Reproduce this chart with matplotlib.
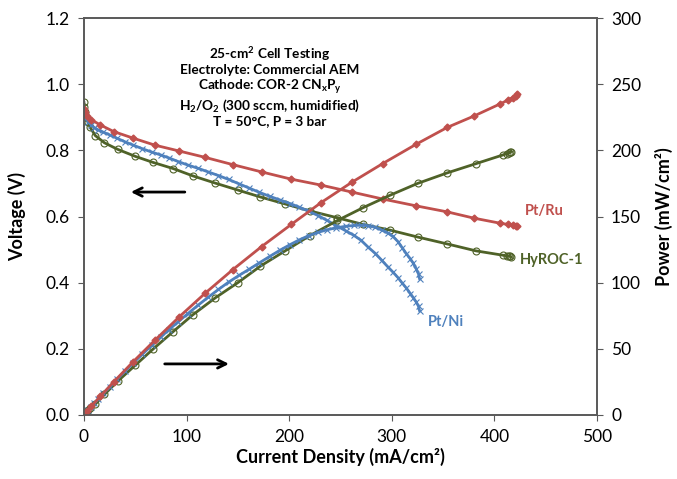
# Polarization and power density curves for 3 anode catalysts (25 cm2 AEM cell)
from matplotlib import pyplot as plt
import numpy as np

plt.rcParams['font.family'] = ['Lato', 'DejaVu Sans']
plt.rcParams['mathtext.fontset'] = 'custom'
plt.rcParams['mathtext.rm'] = 'Lato'
plt.rcParams['mathtext.bf'] = 'Lato:bold'
plt.rcParams['mathtext.it'] = 'Lato:italic'

# Pt/Ru data (current density mA/cm2, voltage V, power mW/cm2)
iRu = np.array([0,1,3,7,16,29,48,69,93,118,145,173,202,231,261,291,324,354,380,405,413,418,421,422])
vRu = np.array([0.925,0.915,0.905,0.893,0.877,0.857,0.837,0.816,0.798,0.779,0.757,0.735,0.713,0.695,
                0.674,0.653,0.632,0.614,0.595,0.580,0.576,0.573,0.571,0.570])
pRu = np.array([0,0.9,2.7,6.3,14,24.9,40.2,56.3,74.2,91.9,109.8,127.2,144,160.5,175.9,190,204.8,
                217.4,226,235,238,240,241.5,243])

# Pt/Ni data
iNi = np.array([0,1,2,4,7,10,14,19,25,32,40,48,57,66,75,83,92,101,111,121,131,141,151,161,171,181,
                191,201,210,219,228,237,246,255,263,270,277,284,290,296,301,306,310,314,318,321,324,326,327])
vNi = np.array([0.915,0.905,0.897,0.887,0.877,0.869,0.862,0.855,0.847,0.837,0.826,0.816,0.805,0.795,
                0.786,0.777,0.766,0.756,0.746,0.735,0.724,0.712,0.699,0.686,0.673,0.661,0.650,0.639,
                0.628,0.616,0.603,0.588,0.572,0.557,0.543,0.528,0.507,0.488,0.468,0.448,0.432,0.415,
                0.399,0.384,0.367,0.354,0.340,0.328,0.315])
pNi = np.array([0,0.9,1.8,3.5,6.1,8.7,12.0,16.2,21.2,26.8,33.0,39.2,45.9,52.5,59.0,64.5,70.5,76.4,
                82.8,88.9,94.8,100.4,105.4,110.1,115,119.8,124.5,128.8,132.4,135.5,138,140,141.5,
                142.6,143.2,143.4,143,141.8,139.8,137.6,135,131,126.5,122,118,114.5,110,106.5,103])

# HyROC-1 data
iHy = np.array([0,0.5,1,2,4,6,11,20,33,50,67,87,106,128,150,172,196,220,247,272,298,325,354,382,
                408,412,414,415,416])
vHy = np.array([0.945,0.930,0.915,0.900,0.885,0.870,0.845,0.823,0.803,0.782,0.764,0.745,0.723,0.701,
                0.680,0.659,0.638,0.617,0.596,0.576,0.559,0.538,0.517,0.496,0.483,0.481,0.480,0.479,0.478])
pHy = np.array([0,0.5,0.9,1.8,3.4,5,8,15.5,25.5,37.5,49.5,63,75.6,88.5,100,112.5,124,135.5,147,
                156.7,166,175,183,190,196.5,197.5,198,198.5,199])

red = '#C0504D'
blue = '#4F81BD'
green = '#4F6228'

fig = plt.figure(figsize=(6.77,4.79), dpi=100)
ax = fig.add_axes([0.124,0.134,0.758,0.828])
ax2 = ax.twinx()

# voltage curves
ax.plot(iHy, vHy, color=green, lw=2, marker='o', ms=5, mfc='none', mew=0.8)
ax.plot(iNi, vNi, color=blue, lw=2, marker='x', ms=4, mew=0.8)
ax.plot(iRu, vRu, color=red, lw=2, marker='D', ms=3.5)

# power curves
ax2.plot(iHy, pHy, color=green, lw=2, marker='o', ms=5, mfc='none', mew=0.8)
ax2.plot(iNi, pNi, color=blue, lw=2, marker='x', ms=4, mew=0.8)
ax2.plot(iRu, pRu, color=red, lw=2, marker='D', ms=3.5)

ax.set_xlim(0,500)
ax.set_ylim(0,1.2)
ax2.set_ylim(0,300)
ax.set_xticks(np.arange(0,501,100))
ax.set_yticks(np.arange(0,1.21,0.2))
ax.set_yticklabels(['%.1f' % v for v in np.arange(0,1.21,0.2)])
ax2.set_yticks(np.arange(0,301,50))

for a in (ax, ax2):
    a.tick_params(labelsize=12.5, color='#595959', direction='out', length=4, pad=6)
    for s in a.spines.values():
        s.set_color('#595959')
        s.set_linewidth(1.2)

ax.set_xlabel('Current Density (mA/cm²)', fontsize=13, fontweight='bold', labelpad=2)
ax.set_ylabel('Voltage (V)', fontsize=13, fontweight='bold', labelpad=14)
ax2.set_ylabel('Power (mW/cm²)', fontsize=13, fontweight='bold', labelpad=10)

# test conditions
info = ('25-cm$^\\mathbf{2}$ Cell Testing\n'
        'Electrolyte: Commercial AEM\n'
        'Cathode: COR-2 CN$_\\mathbf{x}$P$_\\mathbf{y}$\n'
        'H$_\\mathbf{2}$/O$_\\mathbf{2}$ (300 sccm, humidified)\n'
        'T = 50°C, P = 3 bar')
ax.text(181, 1.12, info, ha='center', va='top', fontsize=9.8, fontweight='bold', linespacing=1.12)

# series labels
ax.text(430, 0.617, 'Pt/Ru', color=red, fontsize=10.5, fontweight='bold', va='center')
ax.text(425, 0.469, 'HyROC-1', color=green, fontsize=10.5, fontweight='bold', va='center')
ax.text(335, 0.281, 'Pt/Ni', color=blue, fontsize=10.5, fontweight='bold', va='center')

# arrows pointing to the relevant axes
ax.annotate('', xy=(43,0.674), xytext=(101,0.674),
            arrowprops=dict(arrowstyle='->', color='black', lw=2, mutation_scale=15))
ax2.annotate('', xy=(144,38.5), xytext=(76,38.5),
             arrowprops=dict(arrowstyle='->', color='black', lw=2, mutation_scale=15))

plt.savefig('out.png', dpi=100)
